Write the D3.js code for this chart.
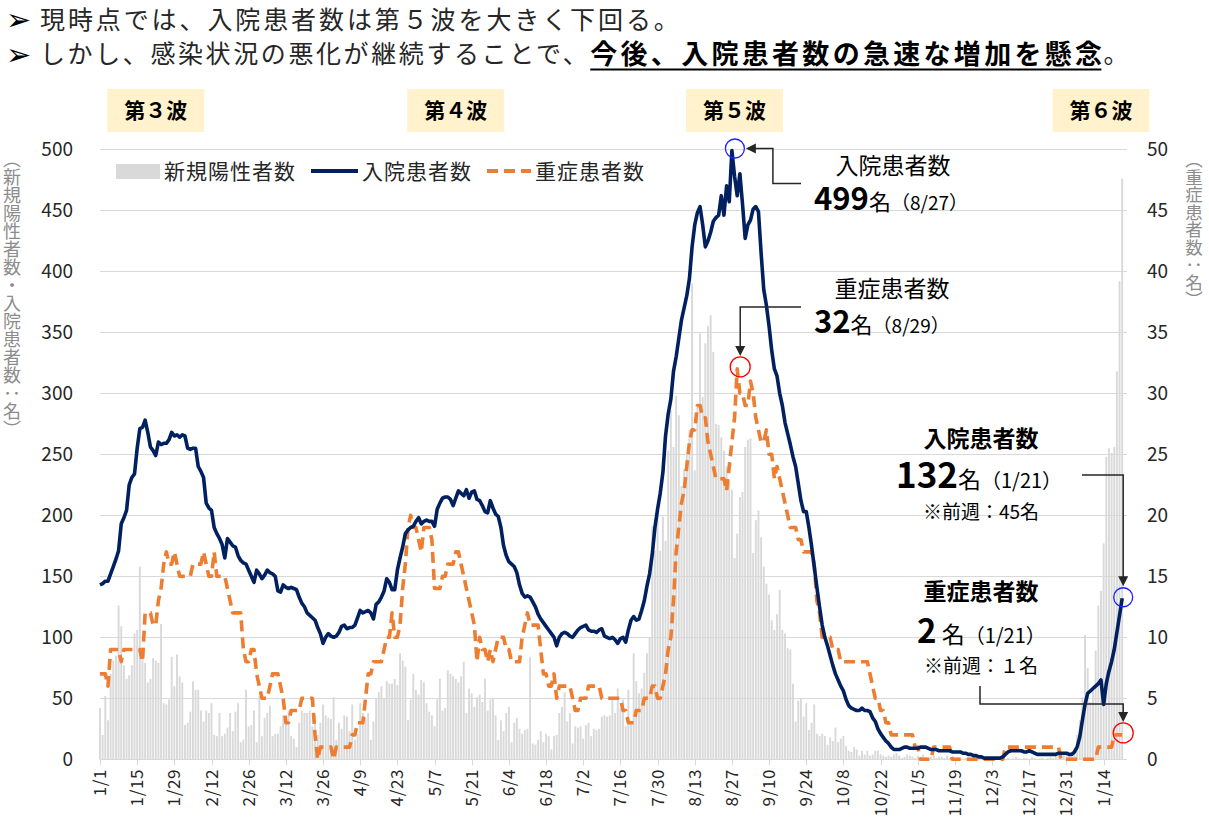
<!DOCTYPE html>
<html><head><meta charset="utf-8">
<script src="https://cdn.jsdelivr.net/npm/d3@7"></script>
<style>
body{margin:0;background:#fff;}
svg{display:block;font-family:"Noto Sans CJK JP","Noto Sans",sans-serif;}
</style></head><body>
<svg id="c" width="1209" height="823"></svg>
<script>
// ---------- DATA ----------
const firstDay = new Date(2021, 0, 1);
const lastDay = new Date(2022, 0, 21);
const xTickLabels = ["1/1","1/15","1/29","2/12","2/26","3/12","3/26","4/9","4/23","5/7","5/21","6/4","6/18","7/2","7/16","7/30","8/13","8/27","9/10","9/24","10/8","10/22","11/5","11/19","12/3","12/17","12/31","1/14"];
const leftTicks = [0,50,100,150,200,250,300,350,400,450,500];
const rightTicks = [0,5,10,15,20,25,30,35,40,45,50];
const waveLabels = ["第３波","第４波","第５波","第６波"];
const waveCenters = ["2021-01-22","2021-05-15","2021-08-28","2022-01-13"];
const seriesNames = ["新規陽性者数","入院患者数","重症患者数"];

// daily new positives (bars, left axis)
const positives = [
42,20,52,32,70,81,85,126,109,77, 66,69,77,103,106,158,88,79,63,66,
83,81,79,111,46,45,49,84,60,86, 68,63,28,30,39,64,57,57,40,31,
40,38,46,20,19,38,19,21,26,38, 23,39,46,14,16,57,27,28,40,14,
52,19,34,38,44,19,21,21,27,36, 34,40,19,17,10,30,40,38,38,40,
27,36,20,30,45,36,34,33,51,16, 30,25,36,35,23,45,16,21,46,38,
34,38,16,31,50,55,60,50,64,62,
62,66,61,87,81,76,32,49,70,57, 53,65,63,46,39,36,27,49,66,40,
42,73,70,68,66,63,68,80,38,58, 54,43,51,53,47,66,40,49,50,36,
16,32,23,38,43,14,30,34,25,21, 24,25,84,13,12,16,23,14,21,19,
8,19,20,38,43,55,31,38,13,27, 26,27,17,28,30,19,25,24,25,35,
36,35,36,49,38,58,42,49,27,57, 31,87,64,
54,58,71,87,100,191,171,201,171,199, 179,253,286,256,298,282,224,238,250,270,
390,237,291,349,297,341,355,364,334,275, 274,264,253,240,228,221,165,185,215,219,
256,262,263,169,196,204,182,158,144,135, 114,106,119,139,106,103,91,90,62,31,
48,50,35,46,24,30,45,21,19,21, 19,12,18,15,26,14,17,19,11,7,
6,10,8,3,7,4,7,3,4,7, 7,4,3,2,
3,2,4,5,3,1,2,4,3,2, 1,3,2,4,2,1,2,3,1,2,
2,1,3,1,0,1,2,1,0,1, 1,0,2,1,0,1,0,0,1,0,
1,0,1,0,0,1,0,1,2,1, 0,1,1,0,2,1,0,1,1,0,
1,2,1,3,2,1,4,5,3,2,
8,20,32,51,102,75,47,60,89,126,138,177,248,255,251,256,318,392,476
];

// hospitalised patients (navy line, left axis)
const inpatients = [
143,144,146,146,152,158,164,171,193,198,204,
225,231,234,255,271,272,278,268,256,253,
249,260,258,259,259,262,268,265,266,264,
266,265,255,254,255,255,240,236,231,210,206,204,190,185,
181,176,165,181,178,175,174,167,163,161,160,
155,150,145,155,152,148,151,155,153,152,150,
138,137,143,141,140,141,140,139,133,128,125,
120,118,116,114,108,103,95,100,103,101,100,
101,104,109,110,107,108,108,110,116,122,120,
121,122,120,115,127,129,133,138,148,145,139,
139,155,165,174,185,188,190,191,195,198,193,
195,196,195,195,191,205,210,214,215,215,213,
208,214,220,218,216,221,214,219,220,213,212,
208,203,202,212,206,201,199,190,175,167,162,
160,158,153,143,136,133,134,133,129,125,119,
115,112,109,106,103,100,93,100,103,104,103,
101,100,103,106,108,109,110,106,105,105,104,
106,107,101,100,99,100,98,95,99,100,96,
106,114,117,114,115,122,130,142,152,168,190,
205,218,235,265,283,295,318,330,345,360,370,
380,394,420,438,448,453,438,420,425,432,441,
444,446,462,446,470,457,499,478,462,480,455,
427,438,442,451,453,449,415,385,372,355,335,320,314,
300,290,276,267,258,248,240,226,212,203,203,
190,175,158,141,125,110,100,93,85,77,70,
65,60,56,49,44,42,41,40,40,42,40,
40,39,34,31,25,21,18,15,13,10,8,
8,8,9,10,10,9,9,9,9,10,10,
10,9,8,8,8,7,7,7,7,7,6,
6,6,6,5,5,4,4,3,3,2,2,
1,1,1,1,1,1,1,2,4,6,7,
7,7,7,7,6,6,7,6,5,4,4,
4,4,4,4,4,4,5,5,5,5,4,
4,6,10,18,32,45,54,56,58,60,62,
65,45,62,72,80,90,104,118,132
];

// severe patients (orange dashed line, right axis)
const severe = [
7,7,7,6,9,9,9,9,8,9, 9,9,9,9,9,9,8,12,12,12,
11,11,13,14,16,17,16,16,17,16, 15,15,15,15,15,16,16,16,16,17,
16,15,15,17,15,15,15,15,14,13, 12,12,12,12,9,8,8,9,9,7,
6,5,5,5,6,7,7,7,6,5, 3,3,4,4,4,4,5,5,5,5,
5,2,0,1,1,1,1,1,0,1, 1,1,1,1,1,2,2,3,3,3,
5,7,7,8,8,8,8,9,10,10, 12,10,10,11,14,16,19,20,19,19,
18,17,19,19,19,18,14,14,14,15, 15,16,16,16,17,17,16,15,14,13,
12,11,8,10,9,9,8,9,8,9, 10,10,10,9,9,8,8,8,8,10,
11,12,11,11,11,11,9,7,7,6, 6,7,5,6,6,6,6,6,5,4,
4,5,5,5,6,6,6,6,6,5, 5,5,5,5,5,5,5,4,4,3,
3,3,4,4,4,5,5,5,6,6, 5,5,6,7,9,10,13,17,19,21,
22,24,26,27,27,29,29,28,28,26, 25,24,23,23,23,23,22,24,26,28,
32,30,30,29,29,31,30,28,27,26, 26,27,25,25,23,24,23,22,21,20,
19,19,19,18,18,17,17,17,17,16, 13,12,10,10,10,10,9,9,9,8,
8,8,8,8,8,8,8,8,8,8, 7,6,5,5,4,4,3,3,2,2,
2,2,2,2,2,2,2,1,1,0, 0,0,0,0,1,1,1,1,1,1,
1,0,0,0,0,0,0,0,0,0, 0,0,0,0,0,0,0,0,0,0,
0,1,1,1,1,1,1,1,1,1, 1,1,1,1,1,1,1,1,1,1,
1,1,0,0,0,0,0,0,0,0, 0,0,0,0,0,0,1,1,1,1,
1,1,2,2,2,2
];

// ---------- CHART ----------
const svg = d3.select("#c");
const C = {navy:"#002060", orange:"#ED7D31", bar:"#D9D9D9", grid:"#D9D9D9", text:"#262626", axisTitle:"#8C8C8C"};
const days = d3.timeDay.range(firstDay, d3.timeDay.offset(lastDay, 1));
const key = d3.timeFormat("%Y-%m-%d");
const keys = days.map(key);
const x = d3.scalePoint().domain(keys).range([100, 1122.2]);
const yL = d3.scaleLinear().domain([0, 500]).range([759.3, 149.3]);
const yR = d3.scaleLinear().domain([0, 50]).range([759.3, 149.3]);
const plotRight = 1127;

// gridlines
svg.append("g").selectAll("line").data(leftTicks).join("line")
  .attr("x1", 100).attr("x2", plotRight)
  .attr("y1", d => Math.round(yL(d)) + 0.5).attr("y2", d => Math.round(yL(d)) + 0.5)
  .attr("stroke", C.grid).attr("stroke-width", 1);

// bars
svg.append("g").selectAll("rect").data(positives).join("rect")
  .attr("x", (d, i) => x(keys[i]) - 0.95).attr("width", 1.9)
  .attr("y", d => yL(d)).attr("height", d => yL(0) - yL(d))
  .attr("fill", C.bar);

// x ticks
const tickIdx = xTickLabels.map((l, i) => i * 14);
svg.append("g").selectAll("line").data(tickIdx).join("line")
  .attr("x1", i => Math.round(x(keys[i])) + 0.5).attr("x2", i => Math.round(x(keys[i])) + 0.5)
  .attr("y1", yL(0)).attr("y2", yL(0) + 6).attr("stroke", C.grid);
svg.append("g").selectAll("text").data(tickIdx).join("text")
  .attr("transform", i => `translate(${x(keys[i]) + 6},769) rotate(-90)`)
  .attr("text-anchor", "end").attr("font-size", 17).attr("letter-spacing", 0.6).attr("fill", C.text)
  .text((i, j) => xTickLabels[j]);

// lines
const lineL = d3.line().x((d, i) => x(keys[i])).y(d => yL(d)).curve(d3.curveLinear);
const lineR = d3.line().x((d, i) => x(keys[i])).y(d => yR(d)).curve(d3.curveLinear);
svg.append("path").attr("d", lineR(severe)).attr("fill", "none")
  .attr("stroke", C.orange).attr("stroke-width", 3.6).attr("stroke-dasharray", "11,6")
  .attr("stroke-linejoin", "round");
svg.append("path").attr("d", lineL(inpatients)).attr("fill", "none")
  .attr("stroke", C.navy).attr("stroke-width", 3.6).attr("stroke-linejoin", "round");

// left/right tick labels
svg.append("g").selectAll("text").data(leftTicks).join("text")
  .attr("x", 73).attr("y", d => yL(d)).attr("dy", "0.36em")
  .attr("text-anchor", "end").attr("font-size", 19).attr("fill", C.text).text(d => d);
svg.append("g").selectAll("text").data(rightTicks).join("text")
  .attr("x", 1147).attr("y", d => yR(d)).attr("dy", "0.36em")
  .attr("text-anchor", "start").attr("font-size", 19).attr("fill", C.text).text(d => d);

// axis titles (vertical)
svg.append("text").attr("x", 12).attr("y", 150)
  .style("writing-mode", "vertical-rl").attr("font-size", 18).attr("fill", C.axisTitle)
  .text("（新規陽性者数・入院患者数：名）");
svg.append("text").attr("x", 1194).attr("y", 151)
  .style("writing-mode", "vertical-rl").attr("font-size", 17.5).attr("fill", C.axisTitle)
  .text("（重症患者数：名）");

// wave boxes
const wg = svg.append("g").selectAll("g").data(waveLabels).join("g")
  .attr("transform", (d, i) => `translate(${x(waveCenters[i])},110)`);
wg.append("rect").attr("x", -48.5).attr("y", -21).attr("width", 97).attr("height", 43).attr("fill", "#FFF2CC");
wg.append("text").attr("text-anchor", "middle").attr("dy", "0.36em").attr("font-size", 21)
  .attr("font-weight", "bold").attr("fill", "#000").text(d => d);

// legend
const lg = svg.append("g").attr("font-size", 21).attr("letter-spacing", 1).attr("fill", C.text);
lg.append("rect").attr("x", 116).attr("y", 164).attr("width", 44).attr("height", 15).attr("fill", C.bar);
lg.append("text").attr("x", 164).attr("y", 171).attr("dy", "0.36em").text(seriesNames[0]);
lg.append("line").attr("x1", 311).attr("x2", 358).attr("y1", 171).attr("y2", 171).attr("stroke", C.navy).attr("stroke-width", 4);
lg.append("text").attr("x", 362).attr("y", 171).attr("dy", "0.36em").text(seriesNames[1]);
lg.append("line").attr("x1", 487).attr("x2", 531).attr("y1", 171).attr("y2", 171).attr("stroke", C.orange).attr("stroke-width", 4).attr("stroke-dasharray", "11,6");
lg.append("text").attr("x", 535).attr("y", 171).attr("dy", "0.36em").text(seriesNames[2]);

// header
function bullet(y) {
  svg.append("text").attr("x", 6).attr("y", y).attr("dy", "0.36em").attr("font-size", 30)
    .attr("font-family", "DejaVu Sans").attr("fill", "#000").text("➢");
}
bullet(19); bullet(54);
svg.append("text").attr("x", 40).attr("y", 20).attr("dy", "0.36em").attr("font-size", 25)
  .attr("letter-spacing", 2.9).attr("fill", C.text).text("現時点では、入院患者数は第５波を大きく下回る。");
const h2a = svg.append("text").attr("x", 40).attr("y", 54).attr("dy", "0.36em").attr("font-size", 25)
  .attr("letter-spacing", 2.6).attr("fill", C.text).text("しかし、感染状況の悪化が継続することで、");
const wA = h2a.node().getComputedTextLength();
const h2b = svg.append("text").attr("x", 40 + wA).attr("y", 54).attr("dy", "0.36em").attr("font-size", 27)
  .attr("font-weight", "bold").attr("letter-spacing", 3.3).attr("fill", "#000").text("今後、入院患者数の急速な増加を懸念");
const wB = h2b.node().getComputedTextLength();
svg.append("line").attr("x1", 40 + wA).attr("x2", 40 + wA + wB - 4).attr("y1", 69.5).attr("y2", 69.5)
  .attr("stroke", "#000").attr("stroke-width", 2.2);
svg.append("text").attr("x", 40 + wA + wB - 2).attr("y", 54).attr("dy", "0.36em").attr("font-size", 25)
  .attr("fill", C.text).text("。");

// ---------- ANNOTATIONS ----------
const ann = svg.append("g");
function arrowHead(tx, ty, dir) { // dir: 'left' | 'down'
  const L = 10, W = 5;
  const p = dir === "left" ? [[tx, ty], [tx + L, ty - W], [tx + L, ty + W]] : [[tx, ty], [tx - W, ty - L], [tx + W, ty - L]];
  ann.append("path").attr("d", "M" + p.join("L") + "Z").attr("fill", C.text);
}
function poly(pts) {
  ann.append("path").attr("d", d3.line()(pts)).attr("fill", "none").attr("stroke", C.text).attr("stroke-width", 1.5);
}
// peak inpatients
const iPeak = d3.maxIndex(inpatients);
const cA = [x(keys[iPeak]) + 3, yL(inpatients[iPeak]) - 2];
ann.append("circle").attr("cx", cA[0]).attr("cy", cA[1]).attr("r", 9.5).attr("fill", "none").attr("stroke", "#1f1fff").attr("stroke-width", 1.3);
poly([[801, cA[1] + 35], [cA[0] + 38, cA[1] + 35], [cA[0] + 38, cA[1]], [cA[0] + 20, cA[1]]]);
arrowHead(cA[0] + 11, cA[1], "left");
// peak severe
const iSev = d3.maxIndex(severe);
const cB = [x(keys[iSev]) + 3, yR(severe[iSev]) - 2];
ann.append("circle").attr("cx", cB[0]).attr("cy", cB[1]).attr("r", 10).attr("fill", "none").attr("stroke", "#ff0000").attr("stroke-width", 1.3);
poly([[801, 307], [cB[0], 307], [cB[0], cB[1] - 20]]);
arrowHead(cB[0], cB[1] - 11, "down");
// latest
const iLast = inpatients.length - 1;
const cC = [x(keys[iLast]) + 1, yL(inpatients[iLast]) - 1];
ann.append("circle").attr("cx", cC[0]).attr("cy", cC[1]).attr("r", 9.5).attr("fill", "none").attr("stroke", "#1f1fff").attr("stroke-width", 1.3);
poly([[1082, 475], [cC[0], 475], [cC[0], cC[1] - 20]]);
arrowHead(cC[0], cC[1] - 11, "down");
const cD = [x(keys[severe.length - 1]) + 1, yR(severe[severe.length - 1]) - 2];
ann.append("circle").attr("cx", cD[0]).attr("cy", cD[1]).attr("r", 10).attr("fill", "none").attr("stroke", "#ff0000").attr("stroke-width", 1.3);
poly([[980, 686], [980, 704], [cD[0], 704], [cD[0], cD[1] - 20]]);
arrowHead(cD[0], cD[1] - 11, "down");

// annotation texts
function t(xp, yp, size, txt, opts = {}) {
  return ann.append("text").attr("x", xp).attr("y", yp).attr("font-size", size)
    .attr("text-anchor", opts.anchor || "start").attr("font-weight", opts.bold ? "bold" : "normal")
    .attr("fill", opts.fill || "#000").text(txt);
}
function rich(xp, yp, parts, anchor) {
  const tx = ann.append("text").attr("x", xp).attr("y", yp).attr("text-anchor", anchor || "start").attr("fill", "#000");
  parts.forEach(p => tx.append("tspan").attr("font-size", p[1]).attr("font-weight", p[2] ? "bold" : "normal").text(p[0]));
  return tx;
}
t(893, 174, 23, "入院患者数", {anchor: "middle"});
rich(814, 210, [[String(inpatients[iPeak]), 31, true], ["名", 22], ["（8/27）", 19]]);
t(892, 297, 23, "重症患者数", {anchor: "middle"});
rich(814, 333, [[String(severe[iSev]), 31, true], ["名", 22], ["（8/29）", 19]]);

t(981, 447, 23, "入院患者数", {anchor: "middle", bold: true});
rich(896, 488, [[String(inpatients[iLast]), 35, true], ["名", 23], ["（1/21）", 20]]);
t(981, 519, 19, "※前週：45名", {anchor: "middle"});
t(981, 600, 23, "重症患者数", {anchor: "middle", bold: true});
rich(917, 643, [[String(severe[severe.length - 1]), 33, true], [" 名", 23], ["（1/21）", 20]]);
t(981, 673, 19, "※前週：１名", {anchor: "middle"});
</script>
</body></html>
